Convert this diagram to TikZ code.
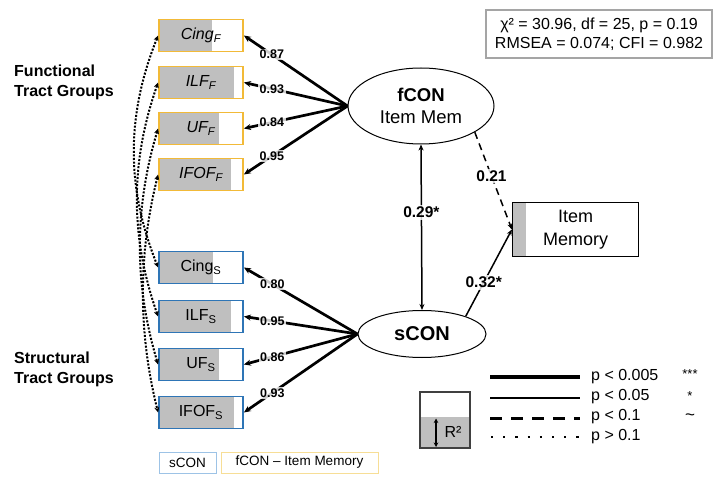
\documentclass[tikz,border=0pt]{standalone}
\usepackage{fontspec}
\setmainfont{Liberation Sans}
\usetikzlibrary{arrows.meta,shapes.geometric}
\definecolor{fborder}{RGB}{242,186,56}
\definecolor{sborder}{RGB}{46,117,182}
\definecolor{barfill}{RGB}{191,191,191}
\definecolor{fitgray}{RGB}{165,165,165}
\definecolor{lfborder}{RGB}{247,222,150}
\definecolor{lsborder}{RGB}{157,195,230}
\begin{document}
\begin{tikzpicture}[x=1pt,y=-1pt,
  tract/.style={draw=#1, line width=1.8pt, minimum width=84pt, minimum height=32pt, inner sep=0pt,
     font=\fontsize{16}{19}\selectfont},
  bar/.style={path picture={\fill[barfill] (path picture bounding box.north west) rectangle ([xshift=#1*84pt]path picture bounding box.south west);}},
  latent/.style={draw, ellipse, line width=1pt, inner sep=0pt, align=center},
  tip/.style={-{Stealth[length=7pt,width=6pt]}},
  load/.style={line width=2.7pt, tip},
  sig/.style={line width=1.5pt},
  lbl/.style={font=\bfseries\fontsize{12.5}{14}\selectfont, fill=white, fill opacity=0.8, text opacity=1, inner sep=1.5pt},
  lblb/.style={font=\bfseries\fontsize{15.5}{17}\selectfont, fill=white, fill opacity=0.8, text opacity=1, inner sep=2pt},
  corr/.style={line width=2pt, dash pattern=on 2pt off 1.6pt, {Stealth[length=5.5pt,width=5pt]}-{Stealth[length=5.5pt,width=5pt]}},
  grouptext/.style={anchor=north west, align=left, font=\bfseries\fontsize{16}{19.5}\selectfont, inner sep=0pt},
  legtext/.style={anchor=west, font=\fontsize{16}{19}\selectfont, inner sep=0pt},
  startext/.style={font=\fontsize{13}{15}\selectfont, inner sep=0pt},
  keybox/.style={draw=#1, line width=1pt, minimum height=21pt, inner sep=2pt, font=\fontsize{13.5}{15}\selectfont}
]
\useasboundingbox (0,0) rectangle (714,478);

% fit box
\node (fit) [draw=fitgray, line width=2pt, minimum width=226pt, minimum height=48pt, align=center,
  font=\fontsize{16}{18.5}\selectfont] at (599,34) {χ² = 30.96, df = 25, p = 0.19\\RMSEA = 0.074; CFI = 0.982};

% group texts
\node (gF) [grouptext] at (14,65) {Functional\\Tract Groups};
\node (gS) [grouptext] at (14,352) {Structural\\Tract Groups};

% functional boxes
\node (cingF) [tract=fborder, bar=0.63] at (201,35.5) {\itshape Cing\textsubscript{F}};
\node (ilfF)  [tract=fborder, bar=0.89] at (201,82.5) {\itshape ILF\textsubscript{F}};
\node (ufF)   [tract=fborder, bar=0.71] at (201,128.5) {\itshape UF\textsubscript{F}};
\node (ifofF) [tract=fborder, bar=0.86] at (201,174.5) {\itshape IFOF\textsubscript{F}};

% structural boxes
\node (cingS) [tract=sborder, bar=0.64] at (201,267.5) {Cing\textsubscript{S}};
\node (ilfS)  [tract=sborder, bar=0.86] at (201,316.5) {ILF\textsubscript{S}};
\node (ufS)   [tract=sborder, bar=0.71] at (201,364.5) {UF\textsubscript{S}};
\node (ifofS) [tract=sborder, bar=0.89] at (201,412.5) {IFOF\textsubscript{S}};

% latents
\node (fCON) [latent, minimum width=146pt, minimum height=76pt, font=\fontsize{18.5}{21.5}\selectfont]
   at (421,106) {\textbf{fCON}\\Item Mem};
\node (sCON) [latent, minimum width=128pt, minimum height=47pt, font=\bfseries\fontsize{20}{22}\selectfont]
   at (422,334) {sCON};

% outcome
\node (im) [draw, line width=1.2pt, minimum width=126pt, minimum height=54pt, inner sep=0pt, align=center,
  font=\fontsize{18}{22.4}\selectfont,
  path picture={\fill[barfill] (path picture bounding box.north west) rectangle ([xshift=13pt]path picture bounding box.south west);}]
  at (575.5,229.5) {Item\\Memory};

% loadings
\draw[load] (fCON.west) -- node[lbl,pos=0.73]{0.87} (cingF.east);
\draw[load] (fCON.west) -- node[lbl,pos=0.73]{0.93} (ilfF.east);
\draw[load] (fCON.west) -- node[lbl,pos=0.73]{0.84} (ufF.east);
\draw[load] (fCON.west) -- node[lbl,pos=0.73]{0.95} (ifofF.east);
\draw[load] (sCON.west) -- node[lbl,pos=0.75]{0.80} (cingS.east);
\draw[load] (sCON.west) -- node[lbl,pos=0.75]{0.95} (ilfS.east);
\draw[load] (sCON.west) -- node[lbl,pos=0.75]{0.86} (ufS.east);
\draw[load] (sCON.west) -- node[lbl,pos=0.75]{0.93} (ifofS.east);

% structural paths
\draw[sig, {Stealth[length=6pt,width=5pt]}-{Stealth[length=6pt,width=5pt]}] (fCON.south) -- node[lblb,pos=0.41]{0.29*} (sCON.north);
\draw[sig, dashed, dash pattern=on 7pt off 5pt, -{Stealth[length=6pt,width=5pt]}] (fCON.-26) -- node[lblb,pos=0.45]{0.21} (im.west);
\draw[sig, -{Stealth[length=6pt,width=5pt]}] (sCON.22) -- node[lblb,pos=0.39]{0.32*} (im.west);

% residual correlations
\draw[corr] (cingF.west) .. controls +(-32,80) and +(-32,-80) .. (cingS.west);
\draw[corr] (ilfF.west) .. controls +(-28,80) and +(-28,-80) .. (ilfS.west);
\draw[corr] (ufF.west) .. controls +(-24,80) and +(-24,-80) .. (ufS.west);
\draw[corr] (ifofF.west) .. controls +(-20,80) and +(-20,-80) .. (ifofS.west);

% R2 legend
\fill[barfill] (420,417) rectangle (470,448);
\draw[line width=1.2pt, black!75] (420,392) rectangle (470,448);
\draw[line width=1.2pt, {Stealth[length=4.5pt,width=4.5pt]}-{Stealth[length=4.5pt,width=4.5pt]}] (436,418.5) -- (436,447);
\node (r2) [font=\fontsize{16}{18}\selectfont, inner sep=0pt] at (453,432) {R²};

% line legend
\draw[line width=4.5pt] (490,377) -- (580,377);
\draw[line width=1.5pt] (490,398) -- (580,398);
\draw[line width=3pt, dash pattern=on 12pt off 9pt] (490,418) -- (580,418);
\draw[line width=2.2pt, dash pattern=on 2.2pt off 10pt] (491,437) -- (580,437);
\node (p1) [legtext] at (591,377) {p < 0.005};
\node (p2) [legtext] at (591,397) {p < 0.05};
\node (p3) [legtext] at (591,417) {p < 0.1};
\node (p4) [legtext] at (591,437) {p > 0.1};
\node (s1) [startext] at (690,374) {***};
\node (s2) [startext] at (690,396) {*};
\node (s3) [startext, font=\fontsize{17}{18}\selectfont] at (690,417) {\textasciitilde};

% bottom key
\node (ks) [keybox=lsborder, minimum width=57pt] at (187.5,462.5) {sCON};
\node (kf) [keybox=lfborder, minimum width=157pt] at (299.5,462.5) {fCON – Item Memory};
\end{tikzpicture}
\end{document}
